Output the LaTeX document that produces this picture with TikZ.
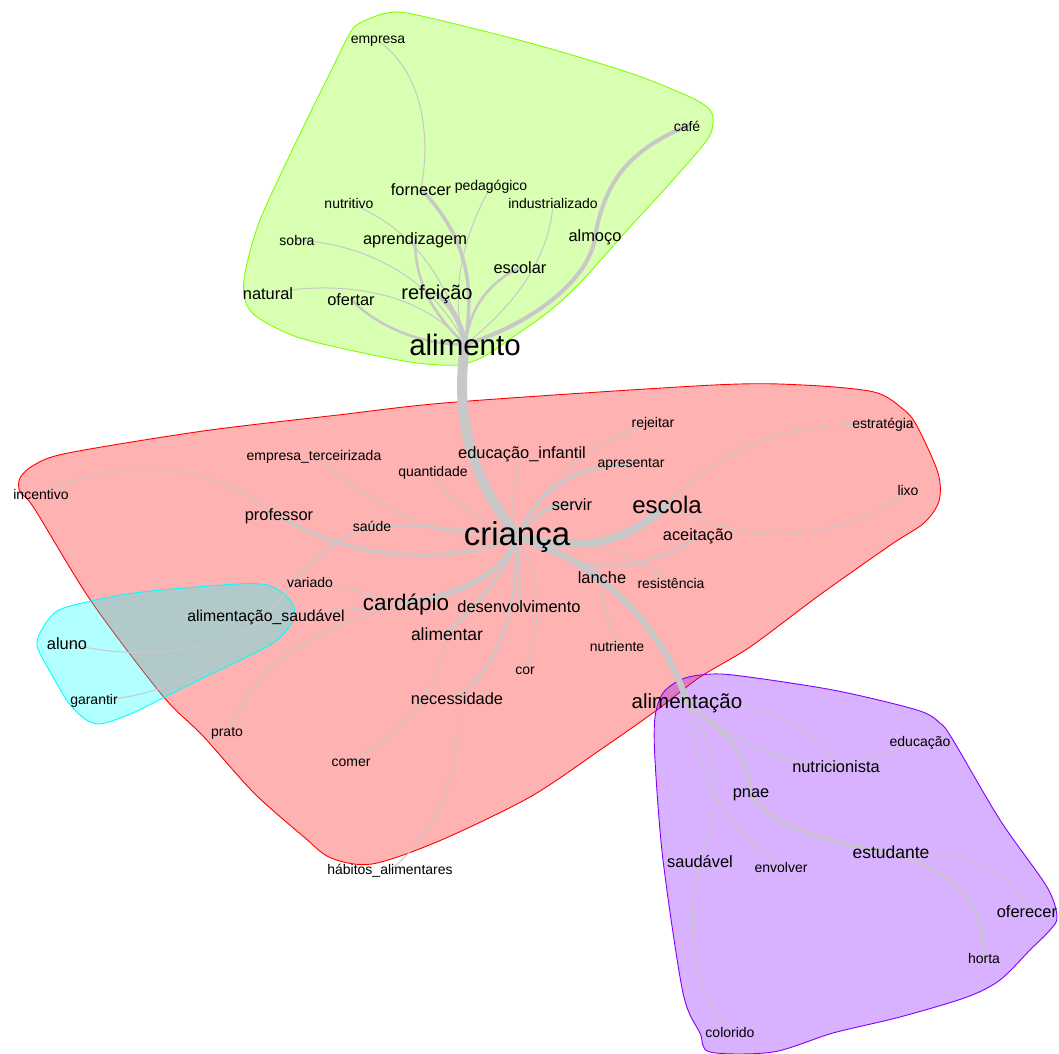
\documentclass[tikz,border=0pt]{standalone}
\usepackage{fontspec}
\setmainfont{Liberation Sans}
\pgfdeclarelayer{hulls}
\pgfdeclarelayer{edges}
\pgfsetlayers{hulls,edges,main}
\definecolor{cgreen}{RGB}{127,255,0}
\definecolor{cred}{RGB}{255,0,0}
\definecolor{ccyan}{RGB}{0,255,255}
\definecolor{cpurple}{RGB}{127,0,255}
\definecolor{edgec}{RGB}{200,200,200}
\tikzset{
  lbl/.style={anchor=base, inner sep=0pt, outer sep=0pt, text=black, font=\fontsize{#1}{#1}\selectfont},
  sm/.style={lbl=14},
  md/.style={lbl=16.4},
  hull/.style={draw=#1, fill=#1, fill opacity=0.3, line width=0.9pt},
  ed/.style={draw=edgec, line width=#1, line cap=round},
}
\begin{document}
\begin{tikzpicture}[x=1pt, y=-1pt]
\useasboundingbox (0,0) rectangle (1059,1053);
% ---------- labels ----------
% green cluster
\node[lbl=29.5] (alimento) at (465,355) {alimento};
\node[lbl=20] (refeicao) at (437,299) {refeição};
\node[md] (fornecer) at (421,195) {fornecer};
\node[sm] (empresa) at (378,43) {empresa};
\node[sm] (pedagogico) at (491,190) {pedagógico};
\node[sm] (nutritivo) at (349,208) {nutritivo};
\node[sm] (industrializado) at (553,208) {industrializado};
\node[sm] (sobra) at (297,245) {sobra};
\node[md] (aprendizagem) at (415,244) {aprendizagem};
\node[md] (almoco) at (595,241) {almoço};
\node[md] (escolar) at (520,273) {escolar};
\node[md] (natural) at (268,299) {natural};
\node[md] (ofertar) at (351,305) {ofertar};
\node[sm] (cafe) at (687,131) {café};
% red cluster
\node[lbl=33] (crianca) at (517,545) {criança};
\node[lbl=24] (escola) at (667,513) {escola};
\node[lbl=22.5] (cardapio) at (406,610) {cardápio};
\node[lbl=17.5] (alimentar) at (447,640) {alimentar};
\node[md] (professor) at (279,520) {professor};
\node[md] (educacaoinf) at (522,458) {educação\_infantil};
\node[md] (servir) at (572,510) {servir};
\node[md] (lanche) at (602,583) {lanche};
\node[md] (aceitacao) at (698,540) {aceitação};
\node[md] (desenvolvimento) at (519,612) {desenvolvimento};
\node[md] (necessidade) at (457,704) {necessidade};
\node[lbl=15.8] (alimsaudavel) at (266,621) {alimentação\_saudável};
\node[sm] (rejeitar) at (653,427) {rejeitar};
\node[sm] (estrategia) at (883,428) {estratégia};
\node[sm] (empresaterc) at (314,460) {empresa\_terceirizada};
\node[sm] (quantidade) at (433,476) {quantidade};
\node[sm] (apresentar) at (631,467) {apresentar};
\node[sm] (incentivo) at (41,499) {incentivo};
\node[sm] (lixo) at (908,495) {lixo};
\node[sm] (saude) at (372,531) {saúde};
\node[sm] (variado) at (310,587) {variado};
\node[sm] (resistencia) at (671,588) {resistência};
\node[sm] (nutriente) at (617,651) {nutriente};
\node[sm] (cor) at (525,674) {cor};
\node[sm] (prato) at (227,736) {prato};
\node[sm] (comer) at (351,766) {comer};
\node[sm] (habitos) at (390,874) {hábitos\_alimentares};
% cyan cluster
\node[md] (aluno) at (67,649) {aluno};
\node[sm] (garantir) at (94,704) {garantir};
% purple cluster
\node[lbl=20.5] (alimentacao) at (687,708) {alimentação};
\node[sm] (educacao) at (920,746) {educação};
\node[md] (nutricionista) at (836,772) {nutricionista};
\node[md] (pnae) at (751,797) {pnae};
\node[md] (saudavel) at (700,867) {saudável};
\node[sm] (envolver) at (781,872) {envolver};
\node[lbl=17.5] (estudante) at (891,858) {estudante};
\node[md, anchor=base east] (oferecer) at (1057,917) {oferecer};
\node[sm] (horta) at (984,963) {horta};
\node[sm] (colorido) at (730,1037) {colorido};

% ---------- hulls ----------
\begin{pgfonlayer}{hulls}
\fill[white] (0,0) rectangle (1059,1053);
\path[hull=cgreen] plot[smooth cycle, tension=0.5] coordinates {
 (360,23) (387,13) (417,15) (530,43) (630,73) (690,97) (710,110) (713,123)
 (707,140) (673,180) (630,227) (580,283) (547,313) (513,337) (483,357)
 (457,365) (417,363) (363,353) (297,337) (257,317) (245,300) (245,273)
 (260,220) (297,140) (330,73) (350,33)};
\path[hull=cred] plot[smooth cycle, tension=0.5] coordinates {
 (20,478) (34,465) (68,453) (203,431) (338,415) (456,402) (714,385) (803,385)
 (874,392) (903,409) (917,426) (938,473) (939,501) (924,523) (892,544)
 (821,594) (750,647) (700,677) (657,710) (600,750) (530,797) (439,841)
 (372,864) (331,858) (304,837) (254,793) (203,736) (162,695) (91,601)
 (34,508) (20,492)};
\path[hull=ccyan] plot[smooth cycle, tension=0.5] coordinates {
 (91,601) (142,592) (237,584) (267,585) (284,594) (294,607) (291,624)
 (270,645) (203,678) (169,695) (135,712) (112,721) (98,724) (85,719)
 (68,702) (44,661) (37,645) (41,631) (57,611)};
\path[hull=cpurple] plot[smooth cycle, tension=0.5] coordinates {
 (680,680) (700,675) (733,675) (833,690) (917,710) (940,723) (953,740)
 (1000,820) (1047,887) (1057,917) (1050,930) (1030,950) (1000,980)
 (967,997) (900,1017) (833,1033) (773,1052) (710,1052) (700,1033)
 (683,993) (663,860) (655,760) (655,717) (663,693)};
\end{pgfonlayer}

% ---------- edges ----------
\begin{pgfonlayer}{edges}
% green
\draw[ed=10pt] (alimento.center) .. controls (455,420) and (470,475) .. (crianca.center);
\draw[ed=5pt] (alimento.center) .. controls (462,325) and (452,305) .. (refeicao.center);
\draw[ed=3.5pt] (alimento.center) .. controls (474,290) and (470,240) .. (fornecer.center);
\draw[ed=1pt] (fornecer.center) .. controls (432,130) and (420,70) .. (empresa.center);
\draw[ed=2.5pt] (alimento.center) .. controls (440,320) and (415,290) .. (aprendizagem.center);
\draw[ed=1pt] (alimento.center) .. controls (450,290) and (420,230) .. (nutritivo.center);
\draw[ed=1pt] (alimento.center) .. controls (440,290) and (380,245) .. (sobra.center);
\draw[ed=1pt] (alimento.center) .. controls (420,290) and (340,280) .. (natural.center);
\draw[ed=2.5pt] (alimento.center) .. controls (420,345) and (375,325) .. (ofertar.center);
\draw[ed=1pt] (alimento.center) .. controls (450,300) and (460,240) .. (pedagogico.center);
\draw[ed=1pt] (alimento.center) .. controls (510,310) and (550,260) .. (industrializado.center);
\draw[ed=2.5pt] (alimento.center) .. controls (470,310) and (485,285) .. (escolar.center);
\draw[ed=4pt] (alimento.center) .. controls (530,325) and (590,280) .. (almoco.center);
\draw[ed=4pt] (almoco.center) .. controls (605,180) and (630,150) .. (cafe.center);
% red
\draw[ed=8pt] (crianca.center) .. controls (580,552) and (625,545) .. (escola.center);
\draw[ed=1pt] (escola.center) .. controls (710,460) and (770,420) .. (estrategia.center);
\draw[ed=1pt] (escola.center) .. controls (740,545) and (840,545) .. (lixo.center);
\draw[ed=2pt] (crianca.center) .. controls (590,580) and (650,570) .. (aceitacao.center);
\draw[ed=1pt] (crianca.center) .. controls (590,535) and (640,560) .. (resistencia.center);
\draw[ed=6pt] (crianca.center) .. controls (600,560) and (665,630) .. (alimentacao.center);
\draw[ed=1.5pt] (crianca.center) .. controls (560,555) and (590,560) .. (lanche.center);
\draw[ed=1pt] (lanche.center) .. controls (600,610) and (615,630) .. (nutriente.center);
\draw[ed=3.5pt] (crianca.center) .. controls (530,520) and (545,505) .. (servir.center);
\draw[ed=3pt] (crianca.center) .. controls (535,495) and (570,465) .. (apresentar.center);
\draw[ed=1pt] (crianca.center) .. controls (545,480) and (590,440) .. (rejeitar.center);
\draw[ed=1pt] (crianca.center) .. controls (508,505) and (515,475) .. (educacaoinf.center);
\draw[ed=1pt] (crianca.center) .. controls (480,522) and (445,500) .. (quantidade.center);
\draw[ed=1pt] (crianca.center) .. controls (440,548) and (370,500) .. (empresaterc.center);
\draw[ed=2pt] (crianca.center) .. controls (480,530) and (420,525) .. (saude.center);
\draw[ed=1.5pt] (saude.center) .. controls (330,535) and (290,585) .. (alimsaudavel.center);
\draw[ed=1pt] (variado.center) .. controls (340,585) and (370,595) .. (cardapio.center);
\draw[ed=1pt] (alimsaudavel.center) .. controls (230,645) and (150,665) .. (aluno.center);
\draw[ed=1pt] (alimsaudavel.center) .. controls (240,650) and (180,697) .. (garantir.center);
\draw[ed=1pt] (cardapio.center) -- (alimsaudavel.center);
\draw[ed=1pt] (cardapio.center) .. controls (300,630) and (255,670) .. (prato.center);
\draw[ed=5pt] (crianca.center) .. controls (505,570) and (470,592) .. (cardapio.center);
\draw[ed=3pt] (crianca.center) .. controls (440,570) and (340,555) .. (professor.center);
\draw[ed=1pt] (professor.center) .. controls (200,455) and (110,460) .. (incentivo.center);
\draw[ed=2pt] (crianca.center) .. controls (520,570) and (520,590) .. (desenvolvimento.center);
\draw[ed=2pt] (crianca.center) .. controls (515,610) and (505,660) .. (necessidade.center);
\draw[ed=3pt] (crianca.center) .. controls (505,575) and (480,600) .. (alimentar.center);
\draw[ed=1pt] (alimentar.center) .. controls (435,700) and (400,735) .. (comer.center);
\draw[ed=1pt] (necessidade.center) .. controls (462,770) and (440,830) .. (habitos.center);
\draw[ed=1pt] (crianca.center) .. controls (545,580) and (540,630) .. (cor.center);
% purple
\draw[ed=2.5pt] (alimentacao.center) .. controls (725,735) and (748,750) .. (pnae.center);
\draw[ed=1.5pt] (alimentacao.center) .. controls (730,740) and (780,765) .. (nutricionista.center);
\draw[ed=1pt] (alimentacao.center) .. controls (770,700) and (815,730) .. (nutricionista.center);
\draw[ed=1pt] (nutricionista.center) .. controls (860,765) and (890,750) .. (educacao.center);
\draw[ed=2.5pt] (pnae.center) .. controls (760,815) and (810,842) .. (estudante.center);
\draw[ed=2pt] (estudante.center) .. controls (950,870) and (985,900) .. (horta.center);
\draw[ed=1pt] (estudante.center) .. controls (970,850) and (1010,870) .. (oferecer.center);
\draw[ed=1pt] (alimentacao.center) .. controls (700,780) and (720,820) .. (envolver.center);
\draw[ed=1pt] (alimentacao.center) .. controls (725,760) and (720,800) .. (saudavel.center);
\draw[ed=1pt] (saudavel.center) .. controls (685,920) and (690,985) .. (colorido.center);
\end{pgfonlayer}
\end{tikzpicture}
\end{document}
